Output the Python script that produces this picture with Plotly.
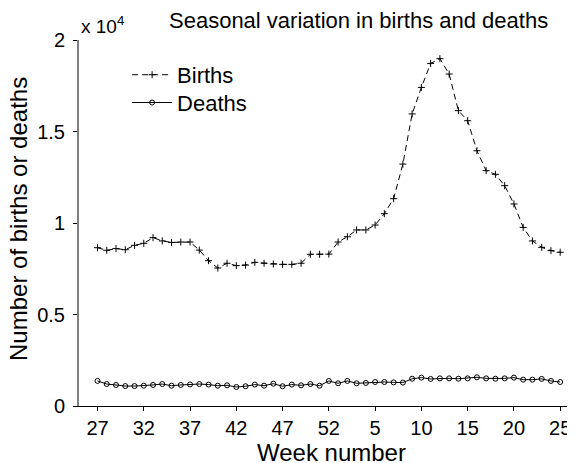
import plotly.graph_objects as go

# week numbers, July to June
weeks = list(range(27, 53)) + list(range(1, 26))

births = [8650, 8510, 8600, 8540, 8780, 8890, 9200, 9020, 8940, 8960,
          8960, 8520, 7940, 7540, 7800, 7670, 7700, 7850, 7800, 7760,
          7740, 7740, 7800, 8290, 8290, 8300, 8960, 9250, 9620, 9620,
          9890, 10510, 11330, 13220, 15960, 17410, 18720, 18980, 18140, 16140,
          15590, 13950, 12860, 12660, 12040, 11040, 9760, 9020, 8670, 8490,
          8400]

deaths = [1370, 1200, 1150, 1090, 1090, 1110, 1150, 1200, 1110, 1150,
          1180, 1200, 1170, 1110, 1130, 1040, 1080, 1170, 1110, 1220,
          1080, 1170, 1130, 1200, 1110, 1370, 1240, 1370, 1240, 1260,
          1310, 1310, 1290, 1280, 1490, 1550, 1480, 1510, 1510, 1490,
          1510, 1570, 1510, 1490, 1510, 1550, 1440, 1440, 1480, 1370,
          1310]

tick_labels = ["27", "32", "37", "42", "47", "52", "5", "10", "15", "20", "25"]
y_tickvals = [0, 5000, 10000, 15000, 20000]
y_ticktext = ["0", "0.5", "1", "1.5", "2"]

idx = list(range(len(weeks)))
font = "Liberation Sans, Arial, sans-serif"

fig = go.Figure()
fig.add_trace(go.Scatter(
    x=idx, y=births, mode="lines+markers", name="Births", legend="legend",
    line=dict(color="black", width=1, dash="6px,4px"),
    marker=dict(symbol="cross-thin", size=5, line=dict(color="black", width=1))
))
fig.add_trace(go.Scatter(
    x=idx, y=deaths, mode="lines+markers", name="Deaths", legend="legend2",
    line=dict(color="black", width=1),
    marker=dict(symbol="circle-open", size=5, color="black", line=dict(width=1))
))

# page body has an 8px margin, so the figure is 8px smaller than the window
leg = dict(x=0.097, xanchor="left", yanchor="top", bgcolor="rgba(0,0,0,0)",
           font=dict(size=22), itemwidth=40)
fig.update_layout(
    width=567, height=455,
    margin=dict(l=71, r=0, t=32, b=57),
    paper_bgcolor="white", plot_bgcolor="white",
    font=dict(family=font, size=20, color="black"),
    showlegend=True,
    legend=dict(leg, y=0.962),
    legend2=dict(leg, y=0.886),
    annotations=[
        dict(text="Seasonal variation in births and deaths", xref="paper", yref="paper",
             x=0.5635, y=1.0, yshift=5, xanchor="center", yanchor="bottom",
             showarrow=False, font=dict(size=22)),
        dict(text="x 10<sup>4</sup>", xref="paper", yref="paper",
             x=0.0, y=1.0, yshift=1, xanchor="left", yanchor="bottom",
             showarrow=False, font=dict(size=19)),
        dict(text="Week number", xref="paper", yref="paper",
             x=0.51, y=0, yshift=-31, xanchor="center", yanchor="top",
             showarrow=False, font=dict(size=24)),
        dict(text="Number of births or deaths", xref="paper", yref="paper",
             x=0, xshift=-60, y=0.511, textangle=-90, xanchor="center", yanchor="middle",
             showarrow=False, font=dict(size=24)),
    ],
)

fig.update_xaxes(
    range=[-2, 51.6], tickvals=idx[::5], ticktext=tick_labels,
    ticks="outside", ticklen=4, tickcolor="black",
    showline=True, linecolor="black", linewidth=1,
    showgrid=False, zeroline=False, automargin=False,
)
fig.update_yaxes(
    range=[0, 20000], tickvals=y_tickvals, ticktext=y_ticktext,
    ticks="outside", ticklen=4, tickcolor="black", ticklabelstandoff=4,
    showline=True, linecolor="#7f7f7f", linewidth=2,
    showgrid=False, zeroline=False, automargin=False,
)

fig.write_html("out.html")
